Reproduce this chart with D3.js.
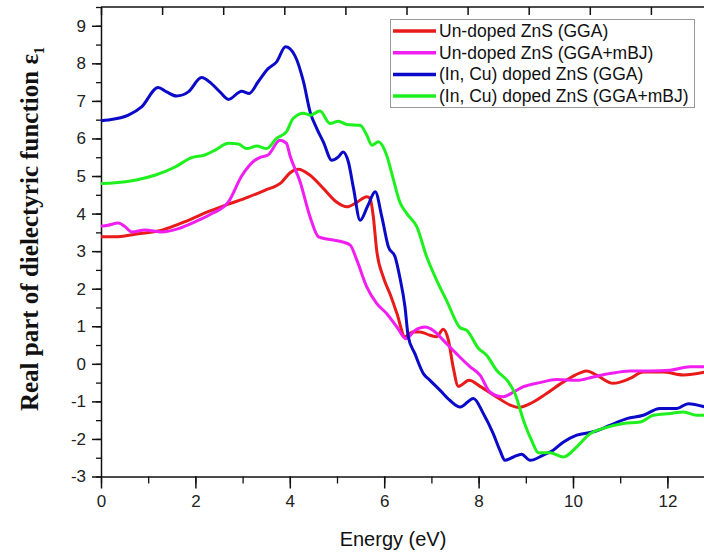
<!DOCTYPE html>
<html>
<head>
<meta charset="utf-8">
<title>Real part of dielectric function</title>
<script src="https://d3js.org/d3.v7.min.js"></script>
<style>
  body { margin: 0; background: #fff; }
  svg { display: block; }
</style>
</head>
<body>
<div id="chart"></div>
<script>
// series names (legend order)
var seriesNames = ["Un-doped ZnS (GGA)", "Un-doped ZnS (GGA+mBJ)",
                   "(In, Cu) doped ZnS (GGA)", "(In, Cu) doped ZnS (GGA+mBJ)"];
var seriesColors = ["#e81a1a", "#f01ef0", "#0a0ac8", "#1ef01e"];

// values: energy (eV) and epsilon_1
var undopedGGA_E = [0, 0.3, 0.72, 1.29, 1.85, 2.27, 2.7, 3.12, 3.47, 3.83, 4.0, 4.18, 4.43, 4.71, 4.99, 5.21, 5.42, 5.63, 5.7, 5.77, 5.84, 5.98, 6.12, 6.27, 6.44, 6.6, 6.76, 6.97, 7.11, 7.25, 7.36, 7.46, 7.57, 7.8, 8.03, 8.38, 8.67, 8.84, 9.09, 9.44, 9.8, 10.15, 10.29, 10.5, 10.85, 11.21, 11.49, 11.91, 12.34, 12.8];
var undopedGGA_V = [3.38, 3.38, 3.45, 3.56, 3.82, 4.05, 4.25, 4.44, 4.62, 4.84, 5.08, 5.18, 5.02, 4.67, 4.31, 4.18, 4.3, 4.45, 4.4, 3.91, 3.03, 2.31, 1.87, 1.34, 0.72, 0.85, 0.85, 0.76, 0.72, 0.92, 0.63, -0.08, -0.6, -0.44, -0.6, -0.88, -1.1, -1.16, -1.06, -0.79, -0.48, -0.24, -0.19, -0.3, -0.52, -0.39, -0.22, -0.22, -0.3, -0.22];

var undopedMBJ_E = [0, 0.15, 0.37, 0.51, 0.65, 0.93, 1.29, 1.64, 1.99, 2.35, 2.7, 2.98, 3.26, 3.4, 3.54, 3.79, 3.93, 4.0, 4.22, 4.43, 4.61, 4.85, 5.1, 5.28, 5.42, 5.63, 5.84, 6.05, 6.27, 6.46, 6.65, 6.86, 7.04, 7.25, 7.53, 7.82, 8.03, 8.24, 8.52, 8.74, 8.95, 9.3, 9.65, 10.08, 10.43, 10.78, 11.21, 11.63, 12.06, 12.48, 12.8];
var undopedMBJ_V = [3.66, 3.69, 3.75, 3.65, 3.51, 3.56, 3.51, 3.6, 3.78, 4.0, 4.31, 5.0, 5.42, 5.51, 5.56, 5.95, 5.87, 5.56, 4.84, 3.91, 3.38, 3.31, 3.25, 3.16, 2.76, 2.05, 1.61, 1.34, 0.98, 0.67, 0.89, 0.98, 0.89, 0.63, 0.27, -0.08, -0.3, -0.75, -0.88, -0.75, -0.61, -0.5, -0.42, -0.44, -0.35, -0.26, -0.19, -0.19, -0.17, -0.08, -0.08];

var dopedGGA_E = [0, 0.15, 0.58, 0.86, 1.21, 1.39, 1.6, 1.85, 2.13, 2.34, 2.52, 2.7, 2.98, 3.14, 3.33, 3.54, 3.72, 3.91, 4.11, 4.29, 4.43, 4.57, 4.71, 4.89, 5.03, 5.13, 5.24, 5.35, 5.49, 5.65, 5.81, 5.95, 6.09, 6.23, 6.33, 6.44, 6.51, 6.65, 6.83, 6.97, 7.18, 7.39, 7.61, 7.89, 8.1, 8.31, 8.45, 8.56, 8.74, 8.91, 9.09, 9.37, 9.58, 9.8, 10.08, 10.43, 10.78, 11.14, 11.49, 11.84, 12.2, 12.44, 12.8];
var dopedGGA_V = [6.47, 6.49, 6.62, 6.84, 7.36, 7.24, 7.13, 7.24, 7.62, 7.46, 7.24, 7.04, 7.26, 7.2, 7.51, 7.86, 8.04, 8.44, 8.2, 7.51, 6.71, 6.27, 5.91, 5.42, 5.51, 5.64, 5.38, 4.67, 3.82, 4.2, 4.58, 3.91, 3.11, 2.85, 2.31, 1.52, 0.72, 0.27, -0.26, -0.44, -0.7, -0.97, -1.15, -0.92, -1.32, -1.86, -2.3, -2.57, -2.48, -2.41, -2.57, -2.43, -2.3, -2.08, -1.9, -1.81, -1.64, -1.46, -1.37, -1.19, -1.19, -1.06, -1.15];

var dopedMBJ_E = [0, 0.3, 0.72, 1.14, 1.57, 1.92, 2.2, 2.42, 2.7, 2.91, 3.09, 3.3, 3.51, 3.72, 3.93, 4.07, 4.29, 4.43, 4.64, 4.85, 5.03, 5.21, 5.49, 5.63, 5.74, 5.88, 6.05, 6.19, 6.33, 6.48, 6.69, 6.9, 7.11, 7.32, 7.61, 7.75, 8.0, 8.17, 8.38, 8.63, 8.77, 8.95, 9.12, 9.27, 9.51, 9.8, 10.08, 10.36, 10.64, 11.07, 11.42, 11.7, 12.06, 12.34, 12.62, 12.8];
var dopedMBJ_V = [4.8, 4.82, 4.89, 5.02, 5.24, 5.49, 5.56, 5.69, 5.87, 5.85, 5.73, 5.8, 5.73, 6.0, 6.18, 6.53, 6.67, 6.62, 6.73, 6.4, 6.46, 6.37, 6.35, 6.09, 5.82, 5.91, 5.56, 4.93, 4.31, 4.0, 3.65, 2.85, 2.23, 1.69, 0.96, 0.89, 0.41, 0.23, -0.17, -0.48, -0.79, -1.5, -2.03, -2.37, -2.37, -2.48, -2.21, -1.86, -1.72, -1.59, -1.55, -1.37, -1.32, -1.28, -1.37, -1.37];

var energyList = [undopedGGA_E, undopedMBJ_E, dopedGGA_E, dopedMBJ_E];
var valueList = [undopedGGA_V, undopedMBJ_V, dopedGGA_V, dopedMBJ_V];

var xTicks = [0, 2, 4, 6, 8, 10, 12];
var yTicks = [-3, -2, -1, 0, 1, 2, 3, 4, 5, 6, 7, 8, 9];

var width = 704, height = 553;
var plotLeft = 101, plotTop = 7, plotBottom = 476.5;
var sans = "'Liberation Sans', Arial, sans-serif";
// plain hyphen for negatives, like the original
var fmt = function(d) { return String(d); };

var svg = d3.select("#chart").append("svg")
    .attr("width", width)
    .attr("height", height)
    .style("font-family", sans);

// the right side of the figure is cut off, so the x range runs past the edge
var x = d3.scaleLinear().domain([0, 13.5]).range([plotLeft, plotLeft + 13.5 * 47.2]);
var y = d3.scaleLinear().domain([-3, 9.5]).range([plotBottom, plotTop]);
// top axis ticks in the original do not line up with the bottom ones
var xTop = d3.scaleLinear().domain([0, 10]).range([plotLeft, plotLeft + 611]);

// frame: top line
svg.append("line").attr("x1", plotLeft).attr("x2", width + 5)
  .attr("y1", plotTop).attr("y2", plotTop)
  .attr("stroke", "#111").attr("stroke-width", 1.5);

// bottom axis: minor then major ticks
var gx = svg.append("g").attr("transform", "translate(0," + plotBottom + ")");
gx.call(d3.axisBottom(x).tickValues(d3.range(0, 14, 1)).tickSize(7).tickFormat("").tickSizeOuter(0));
gx.select(".domain").attr("stroke", "#111").attr("stroke-width", 1.5);
gx.selectAll(".tick line").attr("stroke", "#111").attr("stroke-width", 1.3);
var gx2 = svg.append("g").attr("transform", "translate(0," + plotBottom + ")");
gx2.call(d3.axisBottom(x).tickValues(xTicks).tickSize(12).tickPadding(6).tickFormat(fmt));
gx2.select(".domain").remove();
gx2.selectAll(".tick line").attr("stroke", "#111").attr("stroke-width", 1.5);
gx2.selectAll(".tick text").style("font-size", "17px").style("font-family", sans).attr("fill", "#222");

// top ticks pointing inward
var gt = svg.append("g").attr("transform", "translate(0," + plotTop + ")");
gt.call(d3.axisBottom(xTop).ticks(10).tickSize(8).tickFormat(""));
gt.select(".domain").remove();
gt.selectAll(".tick line").attr("stroke", "#111").attr("stroke-width", 1.5);

// left axis
var gy = svg.append("g").attr("transform", "translate(" + plotLeft + ",0)");
gy.call(d3.axisLeft(y).tickValues(d3.range(-3, 9.6, 0.5)).tickSize(5).tickFormat("").tickSizeOuter(0));
gy.select(".domain").attr("stroke", "#111").attr("stroke-width", 1.5);
gy.selectAll(".tick line").attr("stroke", "#111").attr("stroke-width", 1.3);
var gy2 = svg.append("g").attr("transform", "translate(" + plotLeft + ",0)");
gy2.call(d3.axisLeft(y).tickValues(yTicks).tickSize(9).tickPadding(6).tickFormat(fmt));
gy2.select(".domain").remove();
gy2.selectAll(".tick line").attr("stroke", "#111").attr("stroke-width", 1.5);
gy2.selectAll(".tick text").style("font-size", "17px").style("font-family", sans).attr("fill", "#222");

// curves
var line = d3.line()
  .x(function(d) { return x(d[0]); })
  .y(function(d) { return y(d[1]); })
  .curve(d3.curveMonotoneX);

var plot = svg.append("g");
for (var i = 0; i < energyList.length; i++) {
  var pts = energyList[i].map(function(e, j) { return [e, valueList[i][j]]; });
  plot.append("path")
    .datum(pts)
    .attr("d", line)
    .attr("fill", "none")
    .attr("stroke", seriesColors[i])
    .attr("stroke-width", 3)
    .attr("stroke-linejoin", "round");
}

// legend
var legend = svg.append("g");
legend.append("rect")
  .attr("x", 390.5).attr("y", 19.5).attr("width", 304).attr("height", 88)
  .attr("fill", "#fff").attr("stroke", "#999").attr("stroke-width", 1);
seriesNames.forEach(function(name, i) {
  var yy = 31 + i * 21.7;
  legend.append("line")
    .attr("x1", 393).attr("x2", 436).attr("y1", yy).attr("y2", yy)
    .attr("stroke", seriesColors[i]).attr("stroke-width", 3.5);
  legend.append("text")
    .attr("x", 439).attr("y", yy + 6)
    .style("font-size", "17.5px").attr("fill", "#111")
    .text(name);
});

// axis titles
svg.append("text")
  .attr("x", 393).attr("y", 546)
  .attr("text-anchor", "middle")
  .style("font-size", "20px").attr("fill", "#111")
  .text("Energy (eV)");

var yt = svg.append("text")
  .attr("transform", "translate(38,229) rotate(-90)")
  .attr("text-anchor", "middle")
  .style("font-family", "'Liberation Serif', 'Times New Roman', serif")
  .style("font-weight", "bold")
  .style("font-size", "25px").attr("fill", "#111");
yt.append("tspan").text("Real part of dielectyric function \u03b5");
yt.append("tspan").style("font-size", "14px").attr("dy", 6).text("1");
</script>
</body>
</html>
